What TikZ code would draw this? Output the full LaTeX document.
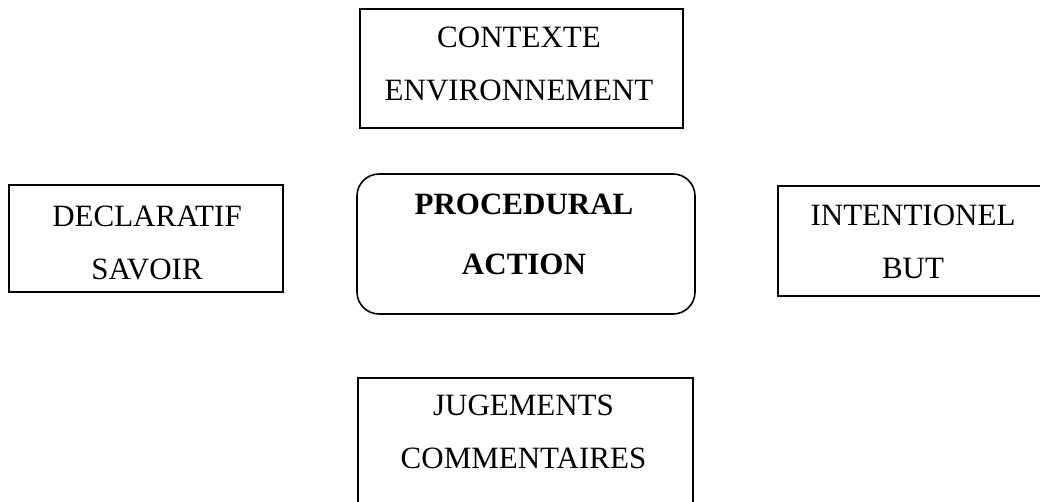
\documentclass[tikz,border=0pt]{standalone}
\usepackage{fontspec}
\setmainfont{Liberation Serif}
\begin{document}
\begin{tikzpicture}[x=1pt,y=-1pt,
  frame/.style={draw=black, line width=1.6pt, rectangle, inner sep=0pt},
  roundframe/.style={frame, rounded corners=22pt},
  lbl/.style={align=center, inner sep=0pt, font=\fontsize{31}{53}\selectfont},
  boldlbl/.style={align=center, inner sep=0pt, font=\fontsize{31}{60}\selectfont\bfseries}]
\useasboundingbox[fill=white] (0,0) rectangle (1040,502);
% boxes
\node[frame, minimum width=323pt, minimum height=119pt] (ctx) at (521.5,68.5) {};
\node[frame, minimum width=274pt, minimum height=107pt] (decl) at (146,238.5) {};
\node[roundframe, minimum width=338pt, minimum height=140pt] (proc) at (526,244) {};
\node[frame, minimum width=272pt, minimum height=110pt] (intent) at (914,241) {};
\node[frame, minimum width=335pt, minimum height=140pt] (jug) at (525.5,448) {};
% labels
\node[lbl] (ctxt) at (519,63.5) {CONTEXTE\\ENVIRONNEMENT};
\node[lbl] (declt) at (147,242.5) {DECLARATIF\\SAVOIR};
\node[boldlbl] (proct) at (524,234.5) {PROCEDURAL\\ACTION};
\node[lbl] (intentt) at (913,241.5) {INTENTIONEL\\BUT};
\node[lbl] (jugt) at (523.5,431.5) {JUGEMENTS\\COMMENTAIRES};
\end{tikzpicture}
\end{document}
